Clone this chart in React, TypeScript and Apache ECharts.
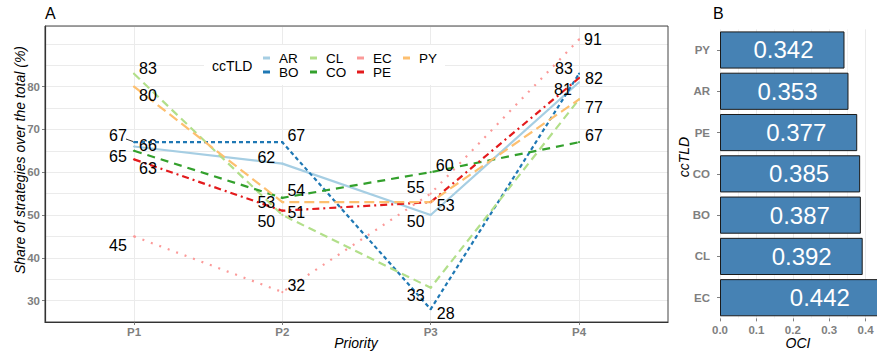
import React, { useEffect, useRef } from "react";
import * as echarts from "echarts";

// ---------- data ----------
const priorities = ["P1", "P2", "P3", "P4"];
const ccTLDs = ["AR", "BO", "CL", "CO", "EC", "PE", "PY"];
const AR = [66, 62, 50, 81];
const BO = [67, 67, 28, 83];
const CL = [83, 50, 33, 77];
const CO = [65, 54, 60, 67];
const EC = [45, 32, 55, 91];
const PE = [63, 51, 53, 82];
const PY = [80, 53, 53, 77];
const shareTicks = [30, 40, 50, 60, 70, 80];

const ociCountries = ["PY", "AR", "PE", "CO", "BO", "CL", "EC"];
const ociValues = [0.342, 0.353, 0.377, 0.385, 0.387, 0.392, 0.442];

// ---------- styles ----------
const FONT = "'Liberation Sans', Arial, Helvetica, sans-serif";
const GRAY = "#7f7f7f";
const seriesValues: Record<string, number[]> = { AR, BO, CL, CO, EC, PE, PY };
const seriesColor: Record<string, string> = {
  AR: "#A6CEE3",
  BO: "#1F78B4",
  CL: "#B2DF8A",
  CO: "#33A02C",
  EC: "#FB9A99",
  PE: "#E31A1C",
  PY: "#FDBF6F",
};
const seriesDash: Record<string, any> = {
  AR: "solid",
  BO: [4, 3],
  CL: [8, 5],
  CO: [8, 6],
  EC: [2, 7],
  PE: [7, 4, 2, 4],
  PY: [10, 5],
};
// label offsets (px) relative to each point, null = label hidden (overlapping duplicate)
const labelOffsets: Record<string, (number[] | null)[]> = {
  AR: [[14, -1], [-16, -6], [-15, 7], [-16, 7]],
  BO: [[-16, -7], [14, -7], [15, 4], [-15, -5]],
  CL: [[14, -5], [-16, 7], [-15, 8], [15, 8]],
  CO: [[-16, 6], [14, -7], [14, -7], [15, -7]],
  EC: [[-16, 9], [14, -7], [-15, -6], [14, 0]],
  PE: [[14, 9], [14, 2], [15, 3], [15, 0]],
  PY: [[14, 9], [-16, 0], null, null],
};
const legendColumns = [["AR", "BO"], ["CL", "CO"], ["EC", "PE"], ["PY"]];
const legendLeft = [263, 310, 357, 403];

function buildOption() {
  const lineSeries = ccTLDs.map((code) => ({
    name: code,
    type: "line",
    xAxisIndex: 0,
    yAxisIndex: 0,
    symbol: "circle",
    symbolSize: 2,
    showSymbol: true,
    color: seriesColor[code],
    lineStyle: { width: 2.2, type: seriesDash[code], color: seriesColor[code] },
    itemStyle: { color: seriesColor[code] },
    emphasis: { disabled: true },
    data: seriesValues[code].map((v, i) => {
      const off = labelOffsets[code][i];
      return {
        value: [i + 1, v],
        label: off
          ? {
              show: true,
              position: "inside",
              offset: off,
              formatter: String(v),
              color: "#000",
              fontSize: 16,
              fontFamily: FONT,
              align: "center",
              verticalAlign: "middle",
            }
          : { show: false },
      };
    }),
  }));

  const barSeries = {
    name: "OCI",
    type: "bar",
    xAxisIndex: 1,
    yAxisIndex: 2,
    barWidth: "90%",
    clip: false,
    itemStyle: { color: "#4682B4", borderColor: "#1a1a1a", borderWidth: 1 },
    emphasis: { disabled: true },
    label: {
      show: true,
      position: "insideRight",
      distance: 31,
      color: "#fff",
      fontSize: 24,
      fontFamily: FONT,
      formatter: (p: any) => Number(p.value).toFixed(3),
    },
    data: ociValues,
  };

  const legends = legendColumns.map((col, i) => ({
    show: true,
    orient: "vertical",
    left: legendLeft[i],
    top: 51,
    padding: 0,
    itemGap: 0,
    itemWidth: 7,
    itemHeight: 3,
    icon: "rect",
    selectedMode: false,
    data: col,
    textStyle: {
      fontSize: 13.5,
      fontFamily: FONT,
      color: "#000",
      lineHeight: 14,
      padding: [0, 0, 0, 4],
    },
  }));

  return {
    animation: false,
    backgroundColor: "#fff",
    textStyle: { fontFamily: FONT },
    grid: [
      { left: 45, top: 26, width: 623, height: 296, containLabel: false },
      { left: 720, top: 29.35, right: 0, height: 289, containLabel: false },
    ],
    legend: legends,
    xAxis: [
      {
        type: "value",
        gridIndex: 0,
        min: 0.4,
        max: 4.6,
        axisLine: { show: true, onZero: false, lineStyle: { color: "#222", width: 1.2 } },
        axisTick: { show: true, length: 3, customValues: [1, 2, 3, 4], lineStyle: { color: GRAY } },
        axisLabel: {
          customValues: [1, 2, 3, 4],
          formatter: (v: number) => priorities[Math.round(v) - 1] ?? "",
          color: GRAY,
          fontWeight: "bold",
          fontSize: 11.5,
          margin: 4,
          fontFamily: FONT,
        },
        splitLine: { show: true, lineStyle: { color: "#ebebeb", width: 1 } },
      },
      {
        type: "value",
        gridIndex: 1,
        min: 0,
        max: 0.4313,
        interval: 0.1,
        axisLine: { show: false },
        axisTick: { show: true, length: 3, lineStyle: { color: GRAY } },
        axisLabel: {
          formatter: (v: number) => (Math.abs(v * 10 - Math.round(v * 10)) < 1e-6 ? v.toFixed(1) : ""),
          showMaxLabel: false,
          color: GRAY,
          fontWeight: "bold",
          fontSize: 11.5,
          margin: 6,
          fontFamily: FONT,
        },
        splitLine: { show: true, lineStyle: { color: "#ebebeb", width: 1 } },
        minorTick: { show: false, splitNumber: 2 },
        minorSplitLine: { show: true, lineStyle: { color: "#f3f3f3", width: 1 } },
      },
    ],
    yAxis: [
      {
        type: "value",
        gridIndex: 0,
        min: 25,
        max: 94.15,
        interval: 5,
        axisLine: { show: false },
        axisTick: { show: false },
        axisLabel: { show: false },
        splitLine: { show: true, lineStyle: { color: "#ebebeb", width: 1 } },
      },
      {
        type: "value",
        gridIndex: 0,
        min: 25,
        max: 94.15,
        position: "left",
        axisLine: { show: true, onZero: false, lineStyle: { color: "#222", width: 1.2 } },
        axisTick: { show: true, length: 3, customValues: shareTicks, lineStyle: { color: GRAY } },
        axisLabel: {
          customValues: shareTicks,
          color: GRAY,
          fontWeight: "bold",
          fontSize: 11.5,
          margin: 5,
          fontFamily: FONT,
        },
        splitLine: { show: false },
      },
      {
        type: "category",
        gridIndex: 1,
        data: ociCountries,
        inverse: true,
        axisLine: { show: false },
        axisTick: { show: true, length: 3, alignWithLabel: true, lineStyle: { color: GRAY } },
        axisLabel: {
          color: GRAY,
          fontWeight: "bold",
          fontSize: 11.5,
          margin: 10,
          fontFamily: FONT,
        },
        splitLine: { show: false },
      },
    ],
    graphic: [
      {
        type: "rect",
        z: 1,
        silent: true,
        shape: { x: 204, y: 45, width: 241, height: 40 },
        style: { fill: "#fff" },
      },
      {
        type: "rect",
        z: 10,
        silent: true,
        shape: { x: 45, y: 26, width: 623, height: 296 },
        style: { fill: "none", stroke: "#444", lineWidth: 1 },
      },
      {
        type: "line",
        z: 10,
        silent: true,
        shape: { x1: 126, y1: 139, x2: 133, y2: 141.5 },
        style: { stroke: "#000", lineWidth: 0.8 },
      },
      {
        type: "text",
        z: 10,
        x: 212,
        y: 66,
        style: { text: "ccTLD", fontSize: 14, fontFamily: FONT, fill: "#000", verticalAlign: "middle" },
      },
      {
        type: "text",
        x: 45,
        y: 13,
        style: { text: "A", fontSize: 16, fontFamily: FONT, fill: "#000", verticalAlign: "middle" },
      },
      {
        type: "text",
        x: 713,
        y: 13,
        style: { text: "B", fontSize: 16, fontFamily: FONT, fill: "#000", verticalAlign: "middle" },
      },
      {
        type: "text",
        x: 20,
        y: 160,
        rotation: Math.PI / 2,
        style: {
          text: "Share of strategies over the total (%)",
          fontSize: 14,
          fontStyle: "italic",
          fontFamily: FONT,
          fill: "#000",
          align: "center",
          verticalAlign: "middle",
        },
      },
      {
        type: "text",
        x: 684,
        y: 157,
        rotation: Math.PI / 2,
        style: {
          text: "ccTLD",
          fontSize: 14,
          fontStyle: "italic",
          fontFamily: FONT,
          fill: "#000",
          align: "center",
          verticalAlign: "middle",
        },
      },
      {
        type: "text",
        x: 356,
        y: 343,
        style: {
          text: "Priority",
          fontSize: 14,
          fontStyle: "italic",
          fontFamily: FONT,
          fill: "#000",
          align: "center",
          verticalAlign: "middle",
        },
      },
      {
        type: "text",
        x: 798,
        y: 343,
        style: {
          text: "OCI",
          fontSize: 14,
          fontStyle: "italic",
          fontFamily: FONT,
          fill: "#000",
          align: "center",
          verticalAlign: "middle",
        },
      },
    ],
    series: [...lineSeries, barSeries],
  };
}

export default function App() {
  const ref = useRef<HTMLDivElement>(null);
  useEffect(() => {
    if (!ref.current) return;
    const chart = echarts.init(ref.current, null, { renderer: "svg" });
    chart.setOption(buildOption() as any);
    return () => chart.dispose();
  }, []);
  return (
    <div
      ref={ref}
      style={{ position: "fixed", left: 0, top: 0, width: 877, height: 354, overflow: "hidden", background: "#fff" }}
    />
  );
}
